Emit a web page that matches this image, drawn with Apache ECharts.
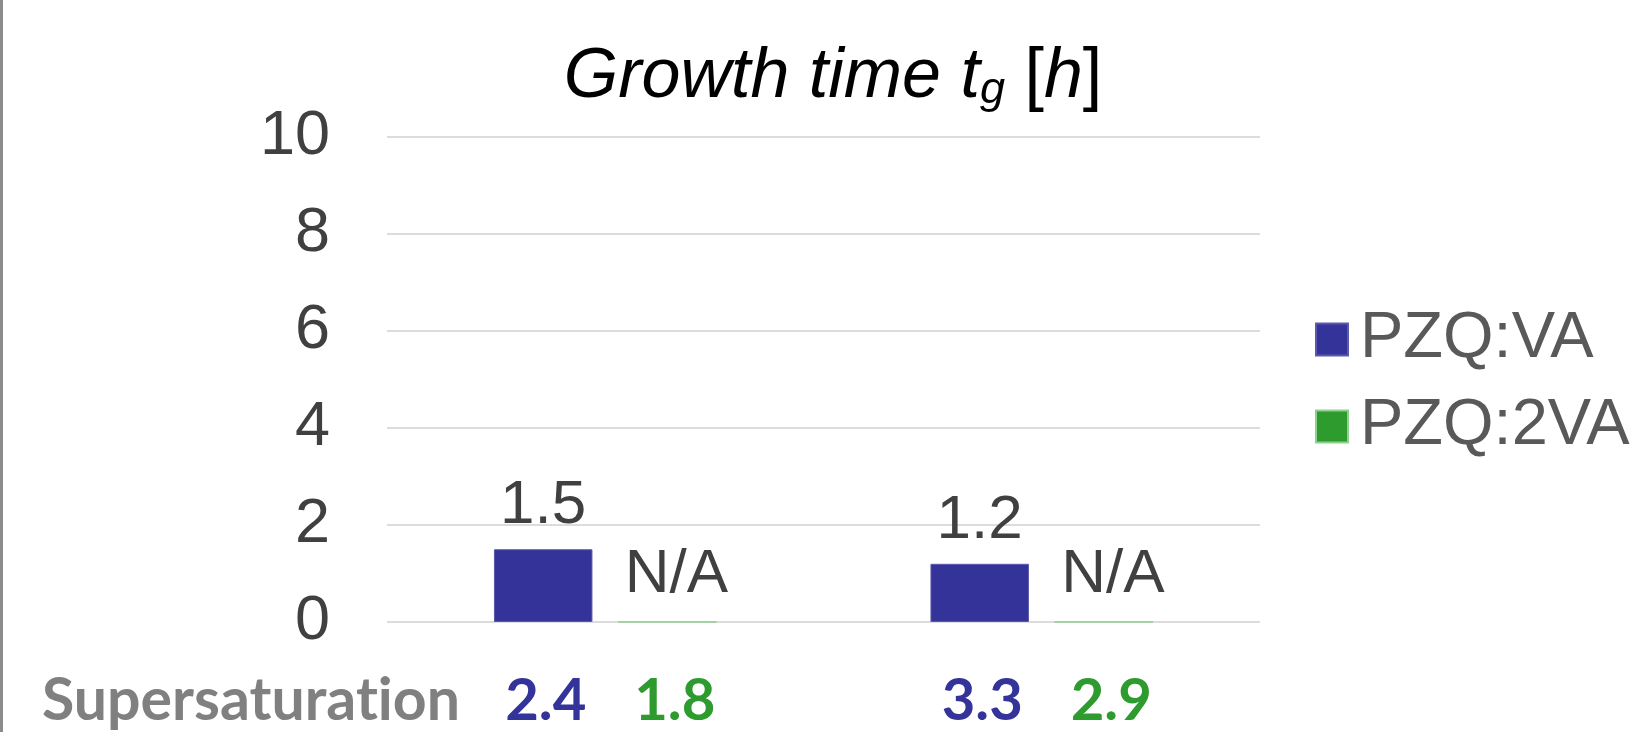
<!DOCTYPE html>
<html>
<head>
<meta charset="utf-8">
<script src="https://cdn.jsdelivr.net/npm/echarts@6/dist/echarts.min.js"></script>
<style>
  html, body { margin: 0; padding: 0; background: #fff; }
  #chart { width: 1633px; height: 732px; }
</style>
</head>
<body>
<div id="chart"></div>
<script>
// data
const categories = ['S1', 'S2'];
const supersatVA = [2.4, 3.3];     // blue numbers under the bars
const supersat2VA = [1.8, 2.9];    // green numbers under the bars
const growthVA = [1.5, 1.2];       // growth time, PZQ:VA
const growth2VA = [0, 0];          // PZQ:2VA has no value, drawn as a flat line
const growth2VALabels = ['N/A', 'N/A'];
const yTicks = [0, 2, 4, 6, 8, 10];

const BLUE = '#333399';
const GREEN = '#2E9B2E';

const chart = echarts.init(document.getElementById('chart'));

const option = {
  animation: false,
  title: [
    {
      // chart title, with subscript g
      text: '{a|Growth time t}{sub|g}{a| }{r|[}{a|h}{r|]}',
      left: 828,
      textAlign: 'center',
      top: 38,
      textStyle: {
        fontWeight: 'normal',
        rich: {
          a: { fontFamily: 'Liberation Sans, Arial', fontStyle: 'italic', fontWeight: 'normal', fontSize: 70, color: '#000', lineHeight: 70 },
          r: { fontFamily: 'Liberation Sans, Arial', fontWeight: 'normal', fontSize: 70, color: '#000', lineHeight: 70 },
          sub: { fontFamily: 'Liberation Sans, Arial', fontStyle: 'italic', fontWeight: 'normal', fontSize: 45, color: '#000', lineHeight: 24, verticalAlign: 'bottom' }
        }
      }
    },
    {
      // zero-width non-joiner keeps the "ti" from turning into a ligature
      text: 'Supersaturat\u200Cion',
      left: 37,
      top: 666,
      textStyle: { fontFamily: 'Lato', fontWeight: 'bold', fontSize: 59, color: '#808080', lineHeight: 59 }
    }
  ],
  legend: {
    orient: 'vertical',
    left: 1310,
    top: 302,
    itemWidth: 32,
    itemHeight: 32,
    itemGap: 22,
    icon: 'rect',
    textStyle: { fontFamily: 'Liberation Sans, Arial', fontSize: 65, lineHeight: 65, color: '#595959', padding: [0, 0, 0, 7] },
    data: ['PZQ:VA', 'PZQ:2VA']
  },
  grid: { left: 387, right: 373, top: 137, bottom: 110 },
  xAxis: {
    type: 'category',
    data: categories,
    axisLine: { show: false },
    axisTick: { show: false },
    axisLabel: {
      margin: 50,
      interval: 0,
      formatter: (v, i) => `{p|}{b|${supersatVA[i].toFixed(1)}}{g|${supersat2VA[i].toFixed(1)}}`,
      rich: {
        p: { width: 10 },
        b: { width: 129, align: 'center', fontFamily: 'Lato', fontWeight: 'bold', fontSize: 58, lineHeight: 58, color: BLUE },
        g: { width: 129, align: 'center', fontFamily: 'Lato', fontWeight: 'bold', fontSize: 58, lineHeight: 58, color: GREEN }
      }
    }
  },
  yAxis: {
    type: 'value',
    min: yTicks[0],
    max: yTicks[yTicks.length - 1],
    interval: 2,
    axisLine: { show: false },
    axisTick: { show: false },
    splitLine: { lineStyle: { color: '#dcdcdc', width: 2 } },
    axisLabel: { margin: 57, fontFamily: 'Liberation Sans, Arial', fontSize: 63, color: '#404040' }
  },
  series: [
    {
      name: 'PZQ:VA',
      type: 'bar',
      data: growthVA,
      barGap: '26%',
      barCategoryGap: '49%',
      itemStyle: { color: BLUE, borderColor: '#5a5aad', borderWidth: 1 },
      label: {
        show: true,
        position: 'top',
        distance: 12,
        fontFamily: 'Liberation Sans, Arial',
        fontSize: 62,
        lineHeight: 62,
        color: '#404040',
        formatter: (p) => p.value.toFixed(1)
      }
    },
    {
      name: 'PZQ:2VA',
      type: 'bar',
      data: growth2VA,
      itemStyle: { color: GREEN, borderColor: '#8fcf8f', borderWidth: 1 },
      label: {
        show: true,
        position: 'top',
        distance: 16,
        offset: [9, 0],
        fontFamily: 'Liberation Sans, Arial',
        fontSize: 62,
        lineHeight: 62,
        color: '#404040',
        formatter: (p) => growth2VALabels[p.dataIndex]
      }
    }
  ],
  graphic: [
    // gray frame edge on the left
    { type: 'rect', left: 0, top: 0, shape: { width: 3, height: 732 }, style: { fill: '#8c8c8c' } }
  ]
};

chart.setOption(option);
</script>
</body>
</html>
